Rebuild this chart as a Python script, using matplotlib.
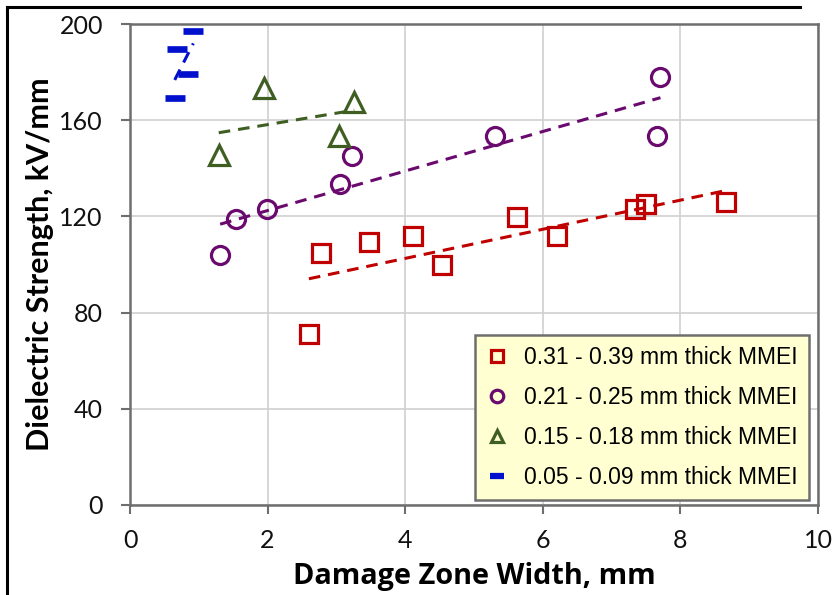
import numpy as np
import matplotlib
matplotlib.use("Agg")
import matplotlib.pyplot as plt
from matplotlib.lines import Line2D

# Data
red_x = [2.60, 2.78, 3.48, 4.11, 4.54, 5.62, 6.21, 7.34, 7.50, 8.66]
red_y = [71.1, 104.7, 109.5, 112.0, 99.8, 119.9, 112.0, 123.0, 125.2, 125.9]
purple_x = [1.31, 1.54, 1.99, 3.05, 3.23, 5.31, 7.71, 7.66]
purple_y = [104.0, 118.9, 123.0, 133.5, 145.1, 153.6, 177.8, 153.4]
green_x = [1.29, 1.95, 3.04, 3.26]
green_y = [145.5, 173.5, 153.6, 167.4]
blue_x = [0.92, 0.68, 0.85, 0.65]
blue_y = [197.2, 189.6, 179.2, 169.1]
labels = ["0.31 - 0.39 mm thick MMEI", "0.21 - 0.25 mm thick MMEI",
          "0.15 - 0.18 mm thick MMEI", "0.05 - 0.09 mm thick MMEI"]
x_ticks = [0, 2, 4, 6, 8, 10]
y_ticks = [0, 40, 80, 120, 160, 200]

tick_font = ["Lato", "DejaVu Sans"]
xlab_font = ["Open Sans", "DejaVu Sans"]
leg_font = ["Liberation Sans", "DejaVu Sans"]

fig = plt.figure(figsize=(8.4, 5.95), dpi=100)
ax = fig.add_axes([130/840, 90/595, 688/840, 481/595])

series = [
    (red_x, red_y, "s", "#C00000", 13, 2.3),
    (purple_x, purple_y, "o", "#6A0A6E", 13, 2.3),
    (green_x, green_y, "^", "#3F5F22", 14, 2.3),
    (blue_x, blue_y, "_", "#0010CC", 15, 4.8),
]
handles = []
for (xs, ys, m, c, ms, mew), lab in zip(series, labels):
    xs = np.array(xs); ys = np.array(ys)
    k, b = np.polyfit(xs, ys, 1)
    xx = np.array([xs.min(), xs.max()])
    ax.plot(xx, k*xx + b, color=c, lw=2.2, linestyle=(0, (3.8, 2.6)), zorder=3)
    ax.plot(xs, ys, linestyle="none", marker=m, markersize=ms, markerfacecolor="none",
            markeredgecolor=c, markeredgewidth=mew, zorder=4)
    if m == "_":
        h = Line2D([], [], linestyle="none", marker=m, markersize=10, markeredgecolor=c,
                   markeredgewidth=4.5, markerfacecolor="none")
    else:
        h = Line2D([], [], linestyle="none", marker=m, markersize=9, markeredgecolor=c,
                   markeredgewidth=2.3, markerfacecolor="none")
    handles.append(h)

ax.set_xlim(0, 10)
ax.set_ylim(0, 200)
ax.set_xticks(x_ticks)
ax.set_yticks(y_ticks)
ax.grid(True, color="#D0D0D0", lw=1.2, zorder=0)
ax.set_axisbelow(True)
for s in ax.spines.values():
    s.set_color("#6E6E6E")
    s.set_linewidth(1.8)
ax.tick_params(direction="out", length=6.5, width=1.5, color="#6E6E6E",
               labelsize=18, labelcolor="#111111", labelfontfamily="Lato")
ax.tick_params(axis="y", pad=13)
ax.tick_params(axis="x", pad=11)

ax.set_xlabel("Damage Zone Width, mm", family=xlab_font, fontweight="bold", fontsize=20.8, labelpad=7)
ax.set_ylabel("Dielectric Strength, kV/mm", family=tick_font, fontweight="bold", fontsize=22, labelpad=4)

leg = ax.legend(handles, labels, loc="lower right", bbox_to_anchor=(0.987, 0.0104),
                prop={"family": leg_font, "size": 16.5}, frameon=True, fancybox=False,
                handlelength=0.92, handletextpad=0.72, labelspacing=0.73, borderpad=0.5,
                borderaxespad=0.0)
fr = leg.get_frame()
fr.set_facecolor("#FFFFD2")
fr.set_edgecolor("#6E6E6E")
fr.set_linewidth(1.8)
fr.set_alpha(1)

# outer border of the original picture
fig.add_artist(Line2D([7/840, 800/840], [1 - 7/595, 1 - 7/595], color="black", lw=2.2))
fig.add_artist(Line2D([7/840, 7/840], [0, 1 - 7/595], color="black", lw=2.2))

fig.savefig("out.png", dpi=100)
